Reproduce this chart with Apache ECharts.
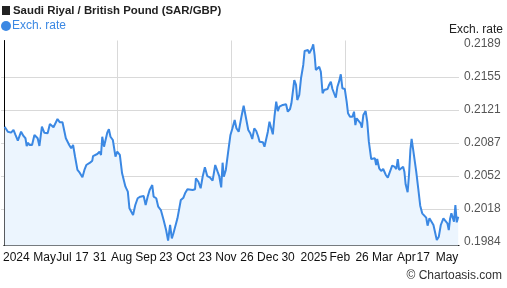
<!DOCTYPE html>
<html><head><meta charset="utf-8">
<script src="https://cdn.jsdelivr.net/npm/echarts@6/dist/echarts.min.js"></script>
<style>html,body{margin:0;padding:0;background:#fff}#c{width:507px;height:288px}</style>
</head><body><div id="c"></div>
<script>
// Day offsets from the start of the 1-year window (≈ mid-May 2024)
const days = [0.6,1.8,3.2,5.8,7.7,9.3,11.2,12.5,13.8,15.7,17.3,18.3,19.4,20.5,22.6,24.5,25.7,27.1,28.5,30.5,32.4,35.1,36.9,38.5,39.8,41.2,43.0,44.9,47.0,48.6,49.7,51.2,52.4,54.0,55.5,57.1,59.0,60.8,63.0,64.6,66.1,67.7,69.1,70.9,71.5,73.1,74.9,76.7,77.9,78.9,80.3,81.5,82.9,84.2,85.5,87.4,89.5,
90.9,93.0,94.8,97.5,99.4,100.7,102.0,103.6,105.4,107.3,109.4,112.1,113.7,115.3,116.9,119.0,120.1,122.2,123.8,124.9,125.9,128.1,130.1,131.7,133.3,134.7,136.0,137.6,139.2,140.5,141.9,144.0,145.3,147.2,148.8,151.4,153.3,154.0,156.0,157.8,159.4,161.2,163.1,165.2,167.4,169.5,171.4,172.7,174.3,175.4,176.4,178.0,
179.9,181.7,183.3,185.1,186.5,188.3,190.5,192.3,193.9,196.0,197.6,199.2,200.8,202.4,204.0,205.1,206.4,207.8,209.0,210.4,211.7,213.0,214.4,215.7,217.0,218.4,219.7,221.0,222.3,223.7,225.0,226.3,227.7,229.5,230.6,231.7,232.9,234.3,235.3,236.9,238.3,240.1,241.2,242.8,243.9,244.9,246.0,247.1,248.1,249.2,250.2,251.6,252.9,254.2,255.6,256.9,258.2,259.6,260.8,262.2,263.5,264.8,266.2,267.5,268.8,
270.2,271.5,273.4,274.9,276.0,277.6,279.5,280.8,281.9,282.9,284.5,286.1,287.1,288.3,290.1,291.4,292.7,294.6,296.2,297.5,298.6,299.4,301.0,302.6,304.2,305.2,306.3,307.9,309.5,311.4,313.2,314.8,315.9,317.0,318.5,320.2,321.2,322.2,323.8,324.9,326.0,327.0,328.1,329.1,330.7,332.3,333.9,335.5,337.1,338.7,339.8,341.3,342.9,344.5,345.6,347.2,348.8,350.4,352.5,354.1,355.7,356.8,357.8,358.9,360.0,361.0,362.1,363.2,364.4];
const rates = [0.21034,0.21051,0.20982,0.20972,0.21000,0.20948,0.20889,0.20896,0.20982,0.20938,0.20914,0.20834,0.20868,0.20844,0.20844,0.20948,0.20955,0.20914,0.20834,0.21034,0.20972,0.20966,0.21062,0.21069,0.21028,0.21028,0.21114,0.21079,0.21079,0.20982,0.20914,0.20896,0.20844,0.20810,0.20844,0.20723,0.20586,0.20558,0.20510,0.20586,0.20637,0.20620,0.20661,0.20682,0.20730,0.20723,0.20751,0.20775,0.20741,0.20930,0.20827,0.20844,0.20972,0.21007,0.20930,0.20896,0.20723,
0.20775,0.20741,0.20551,0.20413,0.20361,0.20189,0.20206,0.20120,0.20223,0.20293,0.20309,0.20316,0.20223,0.20309,0.20378,0.20430,0.20309,0.20293,0.20206,0.20223,0.20171,0.20068,0.19964,0.19854,0.20016,0.19878,0.19930,0.19930,0.20085,0.20102,0.20275,0.20299,0.20344,0.20386,0.20386,0.20378,0.20386,0.20500,0.20464,0.20396,0.20516,0.20613,0.20523,0.20510,0.20475,0.20637,0.20568,0.20523,0.20406,0.20661,0.20516,0.20586,
0.20775,0.20948,0.21017,0.21103,0.21017,0.20982,0.21137,0.21251,0.21241,0.21000,0.20966,0.20907,0.21017,0.20989,0.20930,0.20879,0.20886,0.20872,0.20827,0.20844,0.20982,0.21086,0.21017,0.20955,0.21137,0.21293,0.21196,0.21241,0.21248,0.21259,0.21241,0.21266,0.21189,0.21217,0.21276,0.21266,0.21517,0.21466,0.21310,0.21362,0.21535,0.21673,0.21818,0.21810,0.21828,0.21794,0.21810,0.21846,0.21887,0.21776,0.21621,0.21611,0.21655,0.21603,0.21380,0.21414,0.21431,0.21424,0.21466,0.21500,0.21424,0.21380,0.21334,0.21448,0.21500,
0.21576,0.21431,0.21424,0.21293,0.21173,0.21137,0.21137,0.21189,0.21051,0.21121,0.21137,0.21069,0.21024,0.21155,0.21196,0.21086,0.20879,0.20699,0.20689,0.20707,0.20637,0.20699,0.20603,0.20575,0.20596,0.20586,0.20534,0.20506,0.20492,0.20630,0.20620,0.20596,0.20699,0.20586,0.20603,0.20620,0.20568,0.20437,0.20355,0.20534,0.20793,0.20907,0.20810,0.20793,0.20568,0.20396,0.20216,0.20137,0.20120,0.20092,0.20009,0.20085,0.20092,0.20016,0.20009,0.19861,0.19895,0.20016,0.20085,0.20078,0.20034,0.19964,0.20078,0.20137,0.20092,0.20050,0.20223,0.20044,0.20102];

const xTickLabels = ['2024','May','Jul','17','31','Aug','Sep','23','Oct','23','Nov','26','Dec','30','2025','Feb','26','Mar','Apr','17','May'];
const xTickDays   = [10.0,32.7,48.2,62.6,76.9,94.4,114.0,129.9,145.8,161.4,178.1,194.9,211.6,227.9,248.6,269.4,287.3,303.6,322.8,336.3,355.4];
const yTickLabels = ['0.1984','0.2018','0.2052','0.2087','0.2121','0.2155','0.2189'];

const FONT = "'Liberation Sans', Arial, sans-serif";
const yMin = 0.1984, yMax = 0.2189, yStep = (yMax - yMin) / 6;
const pxVal = (yMax - yMin) / 198;

const chart = echarts.init(document.getElementById('c'), null, {renderer: 'canvas'});
chart.setOption({
  animation: false,
  backgroundColor: '#fff',
  textStyle: {fontFamily: FONT},
  title: [
    {text: '{sq|}{t|Saudi Riyal / British Pound (SAR/GBP)}', left: 2, top: 5, padding: 0,
     textStyle: {fontSize: 11.4, fontWeight: 'bold', color: '#222', fontFamily: FONT,
       rich: {
         sq: {width: 8, height: 9, backgroundColor: '#222'},
         t: {fontSize: 11.4, fontWeight: 'bold', color: '#222', fontFamily: FONT, padding: [0, 0, 0, 3]}
       }}},
    {text: 'Exch. rate', right: 4, top: 24, padding: 0,
     textStyle: {fontSize: 12, fontWeight: 'normal', color: '#222', fontFamily: FONT}},
    {text: '© Chartoasis.com', right: 5, top: 270, padding: 0,
     textStyle: {fontSize: 12, fontWeight: 'normal', color: '#333', fontFamily: FONT}}
  ],
  legend: {
    left: 1, top: 20, padding: 0, icon: 'circle', itemWidth: 10, itemHeight: 10, itemGap: 5,
    textStyle: {fontSize: 12, color: '#3b88e3', fontFamily: FONT, padding: [0, 0, 0, -4]},
    data: ['Exch. rate']
  },
  grid: [
    {left: 1, right: 48, top: 40.5, bottom: 42.5, containLabel: false},
    {left: 1, right: 48, top: 44, bottom: 46, containLabel: false}
  ],
  xAxis: [
    {type: 'value', gridIndex: 0, min: 0, max: 365, interval: 91.25,
     axisLine: {show: true, onZero: false, lineStyle: {color: '#000', width: 1}},
     axisTick: {show: false},
     splitLine: {show: true, showMinLine: false, showMaxLine: false, lineStyle: {color: '#d9d9d9', width: 1}},
     axisLabel: {show: true, customValues: xTickDays, margin: 6, color: '#111', fontSize: 12, fontFamily: FONT,
       formatter: function (v) { const i = xTickDays.indexOf(v); return i >= 0 ? xTickLabels[i] : ''; }}
    },
    {type: 'value', gridIndex: 1, min: 0, max: 365, show: false}
  ],
  yAxis: [
    {type: 'value', gridIndex: 0, position: 'right', min: yMin - 3.5 * pxVal, max: yMax + 3.5 * pxVal,
     axisLine: {show: true, lineStyle: {color: '#000', width: 1}},
     axisTick: {show: false}, axisLabel: {show: false}, splitLine: {show: false}},
    {type: 'value', gridIndex: 1, position: 'right', min: yMin, max: yMax, interval: yStep,
     axisLine: {show: false}, axisTick: {show: false},
     axisLabel: {show: true, margin: 5, color: '#555', fontSize: 12, fontFamily: FONT,
       formatter: function (v, i) { return yTickLabels[i]; }},
     splitLine: {show: true, showMinLine: false, showMaxLine: false, lineStyle: {color: '#d9d9d9', width: 1}}}
  ],
  series: [{
    name: 'Exch. rate', type: 'line', xAxisIndex: 0, yAxisIndex: 0,
    data: days.map((d, i) => [d, rates[i]]),
    showSymbol: false, symbol: 'circle',
    itemStyle: {color: '#3b88e3'},
    lineStyle: {color: '#3b88e3', width: 2},
    areaStyle: {color: '#ecf5fe', opacity: 1, origin: 'start'}
  }]
});
</script></body></html>
